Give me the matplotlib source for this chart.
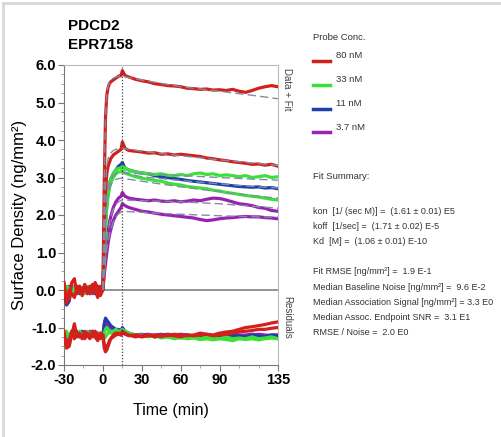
import matplotlib
matplotlib.use('Agg')
import matplotlib.pyplot as plt
from matplotlib.lines import Line2D
from matplotlib.ticker import MultipleLocator, FixedLocator

plt.rcParams['font.family'] = ['Liberation Sans', 'DejaVu Sans']
plt.rcParams['axes.unicode_minus'] = False

# time grid (min): baseline, association (0-15), dissociation (15-135)
t = [-30, -28, -26, -24, -22, -20, -18, -16, -14, -12, -10, -8, -6, -4, -2, 0,
     1, 2, 3, 4, 5, 6, 8, 10, 12, 14, 15,
     17, 20, 25, 30, 35, 40, 45, 50, 55, 60, 65, 70, 75, 80, 85, 90, 95, 100,
     105, 110, 115, 120, 125, 130, 135]

# sensorgrams (ng/mm^2)
r1 = [0.15, -0.3, -0.25, 0.2, 0.3, -0.1, 0.05, -0.15, 0.1, 0.05, -0.1, 0.15, 0.0, -0.2, 0.1, 0.0,
      2.8, 4.6, 5.2, 5.4, 5.5, 5.55, 5.6, 5.65, 5.7, 5.72, 5.85,
      5.72, 5.68, 5.62, 5.58, 5.55, 5.5, 5.48, 5.45, 5.44, 5.42, 5.38, 5.37, 5.35, 5.36, 5.33,
      5.34, 5.32, 5.35, 5.3, 5.27, 5.32, 5.38, 5.42, 5.45, 5.42]
r2 = [0.2, -0.35, 0.0, -0.1, -0.2, 0.05, 0.1, -0.05, 0.15, -0.1, 0.1, -0.05, 0.2, 0.05, -0.15, 0.0,
      1.6, 2.6, 3.1, 3.3, 3.4, 3.5, 3.6, 3.65, 3.7, 3.75, 3.95,
      3.78, 3.72, 3.7, 3.68, 3.65, 3.66, 3.62, 3.63, 3.6, 3.62, 3.6, 3.58, 3.56, 3.52, 3.5,
      3.47, 3.45, 3.42, 3.4, 3.38, 3.35, 3.36, 3.33, 3.35, 3.3]
g1 = [0.0, 0.1, -0.15, 0.05, 0.0, -0.05, 0.1, 0.0, -0.1, 0.05, 0.1, -0.05, 0.05, 0.0, 0.05, 0.0,
      1.0, 1.8, 2.3, 2.6, 2.8, 2.95, 3.1, 3.2, 3.25, 3.25, 3.3,
      3.25, 3.2, 3.15, 3.12, 3.1, 3.08, 3.1, 3.06, 3.05, 3.08, 3.05, 3.1, 3.12, 3.08, 3.1,
      3.05, 3.07, 3.05, 3.02, 3.05, 3.0, 3.02, 3.05, 3.0, 3.02]
g2 = [-0.1, 0.0, 0.05, -0.1, 0.1, 0.0, -0.05, 0.05, 0.0, 0.1, -0.05, 0.0, 0.1, -0.05, 0.0, 0.0,
      0.9, 1.7, 2.2, 2.5, 2.7, 2.85, 3.0, 3.1, 3.15, 3.15, 3.2,
      3.12, 3.08, 3.02, 2.98, 2.95, 2.92, 2.9, 2.85, 2.82, 2.8, 2.76, 2.74, 2.72, 2.7, 2.66,
      2.64, 2.6, 2.58, 2.55, 2.52, 2.5, 2.48, 2.45, 2.42, 2.4]
b1 = [-0.05, -0.4, -0.3, 0.1, 0.0, 0.05, -0.1, 0.0, 0.1, -0.05, 0.05, 0.1, -0.1, 0.0, 0.05, 0.0,
      1.0, 1.8, 2.3, 2.6, 2.8, 2.95, 3.1, 3.2, 3.3, 3.35, 3.4,
      3.25, 3.2, 3.15, 3.12, 3.1, 3.05, 3.02, 3.0, 2.97, 2.95, 2.92, 2.9, 2.88, 2.86, 2.84,
      2.82, 2.8, 2.78, 2.76, 2.75, 2.74, 2.75, 2.72, 2.73, 2.7]
p1 = [0.05, -0.2, 0.1, -0.05, 0.05, 0.0, 0.1, -0.05, 0.0, 0.05, -0.1, 0.05, 0.0, 0.1, -0.05, 0.0,
      0.5, 0.9, 1.3, 1.6, 1.8, 1.95, 2.2, 2.35, 2.45, 2.5, 2.6,
      2.5, 2.45, 2.42, 2.4, 2.38, 2.4, 2.37, 2.36, 2.38, 2.35, 2.37, 2.4, 2.38, 2.42, 2.45,
      2.44, 2.4, 2.35, 2.3, 2.28, 2.25, 2.2, 2.18, 2.12, 2.1]
p2 = [-0.05, 0.05, -0.1, 0.0, -0.05, 0.1, 0.0, 0.05, -0.05, 0.0, 0.05, -0.1, 0.05, 0.0, 0.05, 0.0,
      0.4, 0.7, 1.0, 1.25, 1.45, 1.6, 1.85, 2.0, 2.1, 2.2, 2.3,
      2.25, 2.2, 2.15, 2.1, 2.08, 2.05, 2.02, 2.0, 1.98, 1.96, 1.94, 1.92, 1.88, 1.85, 1.87,
      1.9, 1.92, 1.93, 1.95, 1.96, 1.95, 1.95, 1.93, 1.92, 1.9]

# residuals, as drawn (shifted to the lower panel)
r1_res = [-1.1, -1.55, -1.5, -1.2, -0.9, -1.25, -1.15, -1.3, -1.1, -1.2, -1.3, -1.1, -1.25, -1.35, -1.15, -1.2,
          -1.55, -1.65, -1.6, -1.5, -1.4, -1.3, -1.2, -1.15, -1.15, -1.2, -1.1,
          -1.15, -1.2, -1.25, -1.22, -1.2, -1.25, -1.2, -1.22, -1.18, -1.2, -1.22, -1.2, -1.15,
          -1.18, -1.2, -1.15, -1.12, -1.1, -1.05, -1.0, -0.98, -0.95, -0.92, -0.88, -0.85]
r2_res = [-1.25, -1.5, -1.35, -1.1, -1.3, -1.15, -1.25, -1.2, -1.3, -1.15, -1.2, -1.25, -1.1, -1.2, -1.3, -1.2,
          -1.45, -1.55, -1.5, -1.45, -1.35, -1.3, -1.25, -1.2, -1.18, -1.2, -1.12,
          -1.18, -1.22, -1.2, -1.25, -1.22, -1.2, -1.24, -1.2, -1.22, -1.25, -1.2, -1.22, -1.2,
          -1.18, -1.22, -1.2, -1.18, -1.15, -1.12, -1.1, -1.08, -1.05, -1.05, -1.02, -1.0]
g1_res = [-1.2, -1.1, -1.3, -1.15, -1.2, -1.25, -1.1, -1.2, -1.15, -1.25, -1.2, -1.1, -1.2, -1.15, -1.2, -1.2,
          -1.15, -1.05, -1.0, -1.05, -1.1, -1.15, -1.1, -1.05, -1.1, -1.1, -1.05,
          -1.1, -1.15, -1.2, -1.25, -1.2, -1.25, -1.22, -1.25, -1.2, -1.28, -1.25, -1.22, -1.3,
          -1.25, -1.28, -1.3, -1.25, -1.3, -1.28, -1.3, -1.25, -1.3, -1.28, -1.25, -1.3]
g2_res = [-1.15, -1.25, -1.2, -1.1, -1.25, -1.2, -1.15, -1.25, -1.2, -1.1, -1.25, -1.2, -1.15, -1.2, -1.25, -1.2,
          -1.3, -1.25, -1.2, -1.15, -1.12, -1.1, -1.12, -1.15, -1.12, -1.1, -1.08,
          -1.12, -1.18, -1.22, -1.2, -1.25, -1.22, -1.28, -1.25, -1.3, -1.27, -1.3, -1.28, -1.32,
          -1.3, -1.33, -1.3, -1.32, -1.35, -1.3, -1.32, -1.3, -1.33, -1.3, -1.28, -1.3]
b1_res = [-1.3, -1.45, -1.4, -1.1, -1.2, -1.15, -1.25, -1.1, -1.2, -1.15, -1.25, -1.1, -1.2, -1.15, -1.2, -1.2,
          -0.9, -0.75, -0.8, -0.85, -0.9, -0.95, -1.0, -1.05, -1.05, -1.1, -1.0,
          -1.1, -1.15, -1.2, -1.22, -1.2, -1.25, -1.2, -1.22, -1.25, -1.22, -1.2, -1.25, -1.22,
          -1.2, -1.25, -1.22, -1.25, -1.2, -1.22, -1.25, -1.2, -1.22, -1.25, -1.2, -1.22]
p1_res = [-1.2, -1.35, -1.25, -1.15, -1.2, -1.1, -1.2, -1.25, -1.15, -1.2, -1.1, -1.2, -1.25, -1.15, -1.2, -1.2,
          -0.95, -0.8, -0.82, -0.88, -0.92, -0.98, -1.02, -1.08, -1.1, -1.12, -1.05,
          -1.12, -1.18, -1.2, -1.18, -1.22, -1.2, -1.18, -1.22, -1.2, -1.18, -1.2, -1.22, -1.18,
          -1.2, -1.22, -1.2, -1.18, -1.2, -1.22, -1.2, -1.18, -1.2, -1.22, -1.2, -1.2]
p2_res = [-1.15, -1.2, -1.3, -1.2, -1.1, -1.2, -1.15, -1.2, -1.25, -1.15, -1.2, -1.15, -1.2, -1.2, -1.15, -1.2,
          -1.05, -0.95, -0.92, -0.95, -1.0, -1.05, -1.08, -1.1, -1.12, -1.15, -1.1,
          -1.15, -1.2, -1.22, -1.2, -1.18, -1.22, -1.2, -1.18, -1.2, -1.22, -1.25, -1.22, -1.2,
          -1.25, -1.22, -1.2, -1.22, -1.25, -1.2, -1.22, -1.2, -1.18, -1.2, -1.22, -1.2]

# global fit curves
t_fit = [0, 1, 2, 3, 4, 6, 8, 10, 12, 15, 30, 60, 90, 120, 135]
fits = [
    [0, 3.0, 4.6, 5.2, 5.45, 5.6, 5.65, 5.68, 5.7, 5.7, 5.6, 5.42, 5.3, 5.17, 5.1],
    [0, 1.8, 2.8, 3.3, 3.5, 3.65, 3.72, 3.75, 3.77, 3.78, 3.7, 3.58, 3.47, 3.37, 3.32],
    [0, 1.1, 1.9, 2.4, 2.7, 2.95, 3.05, 3.1, 3.12, 3.13, 3.1, 3.05, 3.0, 2.95, 2.93],
    [0, 1.0, 1.8, 2.3, 2.55, 2.8, 2.9, 2.95, 2.97, 2.98, 2.9, 2.75, 2.62, 2.5, 2.45],
    [0, 1.1, 1.9, 2.4, 2.7, 2.95, 3.05, 3.1, 3.12, 3.13, 3.02, 2.92, 2.83, 2.75, 2.72],
    [0, 0.55, 1.0, 1.35, 1.6, 1.95, 2.15, 2.28, 2.35, 2.4, 2.38, 2.35, 2.3, 2.22, 2.18],
    [0, 0.45, 0.8, 1.1, 1.3, 1.6, 1.8, 1.95, 2.03, 2.1, 2.07, 2.02, 1.98, 1.95, 1.94],
]

conc_labels = ['80 nM', '33 nM', '11 nM', '3.7 nM']
RED, GREEN, BLUE, PURPLE = '#d4201c', '#3de03a', '#1f3fae', '#9a22b0'
conc_colors = [RED, GREEN, BLUE, PURPLE]

summary = [
    'kon  [1/ (sec M)] =  (1.61 \u00b1 0.01) E5',
    'koff  [1/sec] =  (1.71 \u00b1 0.02) E-5',
    'Kd  [M] =  (1.06 \u00b1 0.01) E-10',
    '',
    'Fit RMSE [ng/mm\u00b2] =  1.9 E-1',
    'Median Baseline Noise [ng/mm\u00b2] =  9.6 E-2',
    'Median Association Signal [ng/mm\u00b2] = 3.3 E0',
    'Median Assoc. Endpoint SNR =  3.1 E1',
    'RMSE / Noise =  2.0 E0',
]

W, H = 502, 437
fig = plt.figure(figsize=(W / 100, H / 100), dpi=100)
ax = fig.add_axes([64 / W, 1 - 365 / H, 214 / W, 300 / H])


def fx(px):
    return px / W


def fy(py):
    return 1 - py / H


# data curves (purple at the back, red on top)
curves = [(p2, p2_res, PURPLE), (p1, p1_res, PURPLE), (b1, b1_res, BLUE),
          (g2, g2_res, GREEN), (g1, g1_res, GREEN), (r2, r2_res, RED), (r1, r1_res, RED)]
for y, res, c in curves:
    ax.plot(t, y, color=c, lw=2.3, solid_joinstyle='round', zorder=3)
    ax.plot(t, res, color=c, lw=2.3, solid_joinstyle='round', zorder=3)

for f in fits:
    ax.plot(t_fit, f, color='#7f8ea6', lw=1.0, ls=(0, (6, 3)), zorder=4)

ax.plot([0, 135], [0, 0], color='#8c8c8c', lw=1.3, zorder=2)
ax.axvline(15, color='#444444', lw=0.9, ls=(0, (1, 1.5)), zorder=5)

ax.set_xlim(-30, 135)
ax.set_ylim(-2, 6)
ax.xaxis.set_major_locator(FixedLocator([-30, 0, 30, 60, 90, 135]))
ax.xaxis.set_minor_locator(MultipleLocator(15))
ax.set_yticks([-2, -1, 0, 1, 2, 3, 4, 5, 6])
ax.set_yticklabels(['-2.0', '-1.0', '0.0', '1.0', '2.0', '3.0', '4.0', '5.0', '6.0'])
ax.yaxis.set_minor_locator(MultipleLocator(0.25))
ax.tick_params(axis='both', which='major', length=4, width=0.8, color='#777777',
               labelsize=10.5, pad=1.5)
ax.tick_params(axis='both', which='minor', length=2, width=0.6, color='#999999')
for lab in ax.get_xticklabels() + ax.get_yticklabels():
    lab.set_fontweight('bold')
for side in ['left', 'bottom']:
    ax.spines[side].set_color('#777777')
for side in ['top', 'right']:
    ax.spines[side].set_color('#bbbbbb')

ax.set_ylabel('Surface Density (ng/mm\u00b2)', fontsize=12, labelpad=3)
ax.set_xlabel('Time (min)', fontsize=11.5, labelpad=12)

ax.text(1.02, 0.99, 'Data + Fit', transform=ax.transAxes, rotation=270, fontsize=7,
        ha='left', va='top', color='#444444')
ax.text(1.02, 0.16, 'Residuals', transform=ax.transAxes, rotation=270, fontsize=7,
        ha='left', va='center', color='#444444')

fig.text(fx(68), fy(26), 'PDCD2', fontsize=11, fontweight='bold', va='center')
fig.text(fx(68), fy(45), 'EPR7158', fontsize=11, fontweight='bold', va='center')

# right panel: legend and fit summary
TXT = 6.5
fig.text(fx(313), fy(37), 'Probe Conc.', fontsize=TXT + 0.3, va='center', color='#333333')
for i, (lab, c) in enumerate(zip(conc_labels, conc_colors)):
    yy = 56 + i * 23.8
    fig.add_artist(Line2D([fx(313), fx(330)], [fy(yy + 5), fy(yy + 5)], color=c, lw=2.5,
                          transform=fig.transFigure))
    fig.text(fx(336), fy(yy), lab, fontsize=TXT + 0.3, va='center', color='#333333')

fig.text(fx(313), fy(177), 'Fit Summary:', fontsize=TXT + 0.3, va='center', color='#333333')
for i, line in enumerate(summary):
    fig.text(fx(313), fy(211 + i * 15.2), line, fontsize=TXT, va='center', color='#333333')

# outer frame
fig.add_artist(Line2D([fx(3), fx(502)], [fy(3), fy(3)], color='#d8d8d8', lw=2,
                      transform=fig.transFigure))
fig.add_artist(Line2D([fx(3), fx(3)], [fy(3), fy(437)], color='#d8d8d8', lw=2,
                      transform=fig.transFigure))

fig.savefig('out.png', dpi=100)
